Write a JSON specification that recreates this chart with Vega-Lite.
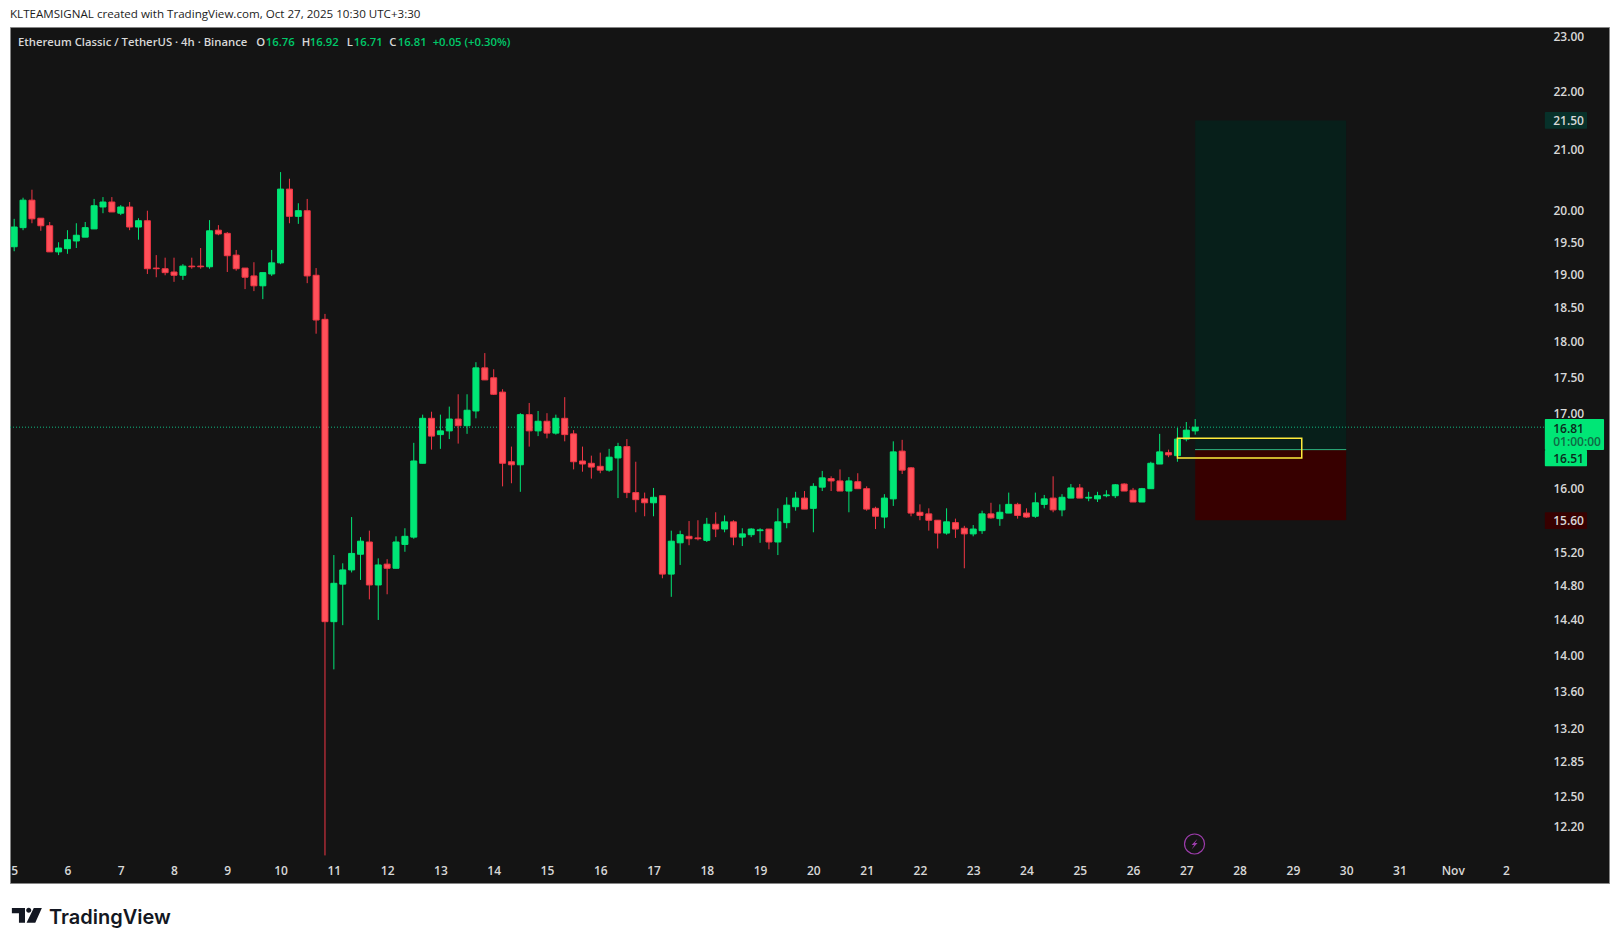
{"$schema":"https://vega.github.io/schema/vega-lite/v6.json","width":1599,"height":856,"autosize":{"type":"none"},"padding":{"left":10,"top":27,"right":11,"bottom":61},"background":"#ffffff","view":{"fill":"#141414","stroke":"#858585"},
"title":{"text":"KLTEAMSIGNAL created with TradingView.com, Oct 27, 2025 10:30 UTC+3:30","anchor":"start","frame":"group","dx":0,"offset":6,"font":"Open Sans","fontSize":11.6,"fontWeight":"normal","color":"#1c1c1c"},
"resolve":{"scale":{"color":"independent","fill":"independent","stroke":"independent","strokeDash":"independent"}},
"datasets":{
"candles":[
{"t":"2025-10-05T00:00Z","o":19.43,"h":19.87,"l":19.36,"c":19.74,"d":"up"},
{"t":"2025-10-05T04:00Z","o":19.73,"h":20.21,"l":19.69,"c":20.17,"d":"up"},
{"t":"2025-10-05T08:00Z","o":20.17,"h":20.34,"l":19.80,"c":19.87,"d":"down"},
{"t":"2025-10-05T12:00Z","o":19.88,"h":19.88,"l":19.68,"c":19.76,"d":"down"},
{"t":"2025-10-05T16:00Z","o":19.76,"h":19.82,"l":19.35,"c":19.35,"d":"down"},
{"t":"2025-10-05T20:00Z","o":19.35,"h":19.50,"l":19.30,"c":19.41,"d":"up"},
{"t":"2025-10-06T00:00Z","o":19.40,"h":19.69,"l":19.32,"c":19.54,"d":"up"},
{"t":"2025-10-06T04:00Z","o":19.52,"h":19.80,"l":19.41,"c":19.61,"d":"up"},
{"t":"2025-10-06T08:00Z","o":19.58,"h":19.82,"l":19.58,"c":19.73,"d":"up"},
{"t":"2025-10-06T12:00Z","o":19.71,"h":20.19,"l":19.71,"c":20.08,"d":"up"},
{"t":"2025-10-06T16:00Z","o":20.06,"h":20.22,"l":19.96,"c":20.14,"d":"up"},
{"t":"2025-10-06T20:00Z","o":20.14,"h":20.22,"l":19.98,"c":19.98,"d":"down"},
{"t":"2025-10-07T00:00Z","o":19.96,"h":20.09,"l":19.93,"c":20.06,"d":"up"},
{"t":"2025-10-07T04:00Z","o":20.06,"h":20.14,"l":19.69,"c":19.74,"d":"down"},
{"t":"2025-10-07T08:00Z","o":19.74,"h":19.88,"l":19.54,"c":19.84,"d":"up"},
{"t":"2025-10-07T12:00Z","o":19.84,"h":20.00,"l":19.01,"c":19.09,"d":"down"},
{"t":"2025-10-07T16:00Z","o":19.10,"h":19.30,"l":18.96,"c":19.09,"d":"down"},
{"t":"2025-10-07T20:00Z","o":19.09,"h":19.26,"l":18.99,"c":19.03,"d":"down"},
{"t":"2025-10-08T00:00Z","o":19.04,"h":19.26,"l":18.89,"c":18.99,"d":"down"},
{"t":"2025-10-08T04:00Z","o":18.99,"h":19.16,"l":18.92,"c":19.13,"d":"up"},
{"t":"2025-10-08T08:00Z","o":19.13,"h":19.26,"l":19.09,"c":19.12,"d":"down"},
{"t":"2025-10-08T12:00Z","o":19.13,"h":19.41,"l":19.09,"c":19.12,"d":"down"},
{"t":"2025-10-08T16:00Z","o":19.12,"h":19.85,"l":19.09,"c":19.68,"d":"up"},
{"t":"2025-10-08T20:00Z","o":19.69,"h":19.77,"l":19.61,"c":19.63,"d":"down"},
{"t":"2025-10-09T00:00Z","o":19.64,"h":19.66,"l":19.04,"c":19.29,"d":"down"},
{"t":"2025-10-09T04:00Z","o":19.30,"h":19.38,"l":19.06,"c":19.09,"d":"down"},
{"t":"2025-10-09T08:00Z","o":19.10,"h":19.10,"l":18.78,"c":18.96,"d":"down"},
{"t":"2025-10-09T12:00Z","o":18.98,"h":19.19,"l":18.75,"c":18.83,"d":"down"},
{"t":"2025-10-09T16:00Z","o":18.83,"h":19.03,"l":18.63,"c":19.03,"d":"up"},
{"t":"2025-10-09T20:00Z","o":19.01,"h":19.38,"l":18.98,"c":19.18,"d":"up"},
{"t":"2025-10-10T00:00Z","o":19.18,"h":20.63,"l":19.16,"c":20.35,"d":"up"},
{"t":"2025-10-10T04:00Z","o":20.35,"h":20.52,"l":19.80,"c":19.91,"d":"down"},
{"t":"2025-10-10T08:00Z","o":19.91,"h":20.12,"l":19.79,"c":20.00,"d":"up"},
{"t":"2025-10-10T12:00Z","o":20.00,"h":20.19,"l":18.87,"c":18.98,"d":"down"},
{"t":"2025-10-10T16:00Z","o":18.99,"h":19.10,"l":18.12,"c":18.32,"d":"down"},
{"t":"2025-10-10T20:00Z","o":18.33,"h":18.41,"l":11.92,"c":14.38,"d":"down"},
{"t":"2025-10-11T00:00Z","o":14.38,"h":15.17,"l":13.84,"c":14.83,"d":"up"},
{"t":"2025-10-11T04:00Z","o":14.82,"h":15.07,"l":14.34,"c":14.99,"d":"up"},
{"t":"2025-10-11T08:00Z","o":14.99,"h":15.64,"l":14.96,"c":15.19,"d":"up"},
{"t":"2025-10-11T12:00Z","o":15.18,"h":15.39,"l":14.87,"c":15.34,"d":"up"},
{"t":"2025-10-11T16:00Z","o":15.33,"h":15.47,"l":14.64,"c":14.81,"d":"down"},
{"t":"2025-10-11T20:00Z","o":14.81,"h":15.13,"l":14.40,"c":15.05,"d":"up"},
{"t":"2025-10-12T00:00Z","o":15.06,"h":15.12,"l":14.70,"c":15.01,"d":"down"},
{"t":"2025-10-12T04:00Z","o":15.01,"h":15.40,"l":15.01,"c":15.33,"d":"up"},
{"t":"2025-10-12T08:00Z","o":15.30,"h":15.50,"l":15.21,"c":15.40,"d":"up"},
{"t":"2025-10-12T12:00Z","o":15.39,"h":16.60,"l":15.37,"c":16.36,"d":"up"},
{"t":"2025-10-12T16:00Z","o":16.33,"h":16.98,"l":16.33,"c":16.93,"d":"up"},
{"t":"2025-10-12T20:00Z","o":16.93,"h":17.02,"l":16.51,"c":16.69,"d":"down"},
{"t":"2025-10-13T00:00Z","o":16.71,"h":16.98,"l":16.52,"c":16.76,"d":"up"},
{"t":"2025-10-13T04:00Z","o":16.76,"h":17.09,"l":16.65,"c":16.92,"d":"up"},
{"t":"2025-10-13T08:00Z","o":16.92,"h":17.26,"l":16.59,"c":16.83,"d":"down"},
{"t":"2025-10-13T12:00Z","o":16.83,"h":17.26,"l":16.72,"c":17.04,"d":"up"},
{"t":"2025-10-13T16:00Z","o":17.03,"h":17.71,"l":16.93,"c":17.63,"d":"up"},
{"t":"2025-10-13T20:00Z","o":17.63,"h":17.84,"l":17.46,"c":17.46,"d":"down"},
{"t":"2025-10-14T00:00Z","o":17.49,"h":17.61,"l":17.25,"c":17.26,"d":"down"},
{"t":"2025-10-14T04:00Z","o":17.29,"h":17.33,"l":16.03,"c":16.33,"d":"down"},
{"t":"2025-10-14T08:00Z","o":16.35,"h":16.55,"l":16.07,"c":16.31,"d":"down"},
{"t":"2025-10-14T12:00Z","o":16.31,"h":17.00,"l":15.96,"c":16.98,"d":"up"},
{"t":"2025-10-14T16:00Z","o":16.98,"h":17.14,"l":16.55,"c":16.76,"d":"down"},
{"t":"2025-10-14T20:00Z","o":16.76,"h":17.03,"l":16.69,"c":16.89,"d":"up"},
{"t":"2025-10-15T00:00Z","o":16.89,"h":17.00,"l":16.66,"c":16.73,"d":"down"},
{"t":"2025-10-15T04:00Z","o":16.73,"h":16.98,"l":16.71,"c":16.93,"d":"up"},
{"t":"2025-10-15T08:00Z","o":16.93,"h":17.22,"l":16.62,"c":16.71,"d":"down"},
{"t":"2025-10-15T12:00Z","o":16.72,"h":16.77,"l":16.25,"c":16.35,"d":"down"},
{"t":"2025-10-15T16:00Z","o":16.36,"h":16.55,"l":16.22,"c":16.32,"d":"down"},
{"t":"2025-10-15T20:00Z","o":16.33,"h":16.43,"l":16.13,"c":16.28,"d":"down"},
{"t":"2025-10-16T00:00Z","o":16.29,"h":16.47,"l":16.20,"c":16.24,"d":"down"},
{"t":"2025-10-16T04:00Z","o":16.24,"h":16.52,"l":16.22,"c":16.41,"d":"up"},
{"t":"2025-10-16T08:00Z","o":16.40,"h":16.60,"l":15.88,"c":16.55,"d":"up"},
{"t":"2025-10-16T12:00Z","o":16.55,"h":16.65,"l":15.88,"c":15.95,"d":"down"},
{"t":"2025-10-16T16:00Z","o":15.95,"h":16.35,"l":15.70,"c":15.86,"d":"down"},
{"t":"2025-10-16T20:00Z","o":15.87,"h":15.95,"l":15.65,"c":15.82,"d":"down"},
{"t":"2025-10-17T00:00Z","o":15.82,"h":16.01,"l":15.65,"c":15.89,"d":"up"},
{"t":"2025-10-17T04:00Z","o":15.91,"h":15.91,"l":14.89,"c":14.94,"d":"down"},
{"t":"2025-10-17T08:00Z","o":14.94,"h":15.47,"l":14.67,"c":15.34,"d":"up"},
{"t":"2025-10-17T12:00Z","o":15.32,"h":15.47,"l":15.05,"c":15.42,"d":"up"},
{"t":"2025-10-17T16:00Z","o":15.40,"h":15.59,"l":15.29,"c":15.37,"d":"down"},
{"t":"2025-10-17T20:00Z","o":15.38,"h":15.60,"l":15.35,"c":15.37,"d":"down"},
{"t":"2025-10-18T00:00Z","o":15.35,"h":15.63,"l":15.33,"c":15.55,"d":"up"},
{"t":"2025-10-18T04:00Z","o":15.55,"h":15.70,"l":15.39,"c":15.49,"d":"down"},
{"t":"2025-10-18T08:00Z","o":15.49,"h":15.66,"l":15.45,"c":15.58,"d":"up"},
{"t":"2025-10-18T12:00Z","o":15.58,"h":15.60,"l":15.29,"c":15.39,"d":"down"},
{"t":"2025-10-18T16:00Z","o":15.39,"h":15.50,"l":15.28,"c":15.43,"d":"up"},
{"t":"2025-10-18T20:00Z","o":15.42,"h":15.50,"l":15.39,"c":15.49,"d":"up"},
{"t":"2025-10-19T00:00Z","o":15.47,"h":15.50,"l":15.32,"c":15.48,"d":"up"},
{"t":"2025-10-19T04:00Z","o":15.49,"h":15.49,"l":15.24,"c":15.33,"d":"down"},
{"t":"2025-10-19T08:00Z","o":15.33,"h":15.75,"l":15.17,"c":15.58,"d":"up"},
{"t":"2025-10-19T12:00Z","o":15.57,"h":15.89,"l":15.50,"c":15.79,"d":"up"},
{"t":"2025-10-19T16:00Z","o":15.77,"h":15.96,"l":15.72,"c":15.88,"d":"up"},
{"t":"2025-10-19T20:00Z","o":15.88,"h":15.97,"l":15.74,"c":15.74,"d":"down"},
{"t":"2025-10-20T00:00Z","o":15.75,"h":16.07,"l":15.45,"c":16.03,"d":"up"},
{"t":"2025-10-20T04:00Z","o":16.02,"h":16.23,"l":15.97,"c":16.14,"d":"up"},
{"t":"2025-10-20T08:00Z","o":16.13,"h":16.16,"l":15.97,"c":16.10,"d":"down"},
{"t":"2025-10-20T12:00Z","o":16.10,"h":16.25,"l":15.97,"c":15.97,"d":"down"},
{"t":"2025-10-20T16:00Z","o":15.97,"h":16.15,"l":15.70,"c":16.10,"d":"up"},
{"t":"2025-10-20T20:00Z","o":16.09,"h":16.20,"l":16.00,"c":16.00,"d":"down"},
{"t":"2025-10-21T00:00Z","o":16.00,"h":16.03,"l":15.72,"c":15.74,"d":"down"},
{"t":"2025-10-21T04:00Z","o":15.75,"h":15.77,"l":15.49,"c":15.65,"d":"down"},
{"t":"2025-10-21T08:00Z","o":15.64,"h":15.93,"l":15.50,"c":15.88,"d":"up"},
{"t":"2025-10-21T12:00Z","o":15.87,"h":16.62,"l":15.78,"c":16.48,"d":"up"},
{"t":"2025-10-21T16:00Z","o":16.49,"h":16.64,"l":16.19,"c":16.24,"d":"down"},
{"t":"2025-10-21T20:00Z","o":16.27,"h":16.28,"l":15.65,"c":15.69,"d":"down"},
{"t":"2025-10-22T00:00Z","o":15.70,"h":15.80,"l":15.60,"c":15.66,"d":"down"},
{"t":"2025-10-22T04:00Z","o":15.68,"h":15.75,"l":15.47,"c":15.60,"d":"down"},
{"t":"2025-10-22T08:00Z","o":15.60,"h":15.60,"l":15.25,"c":15.44,"d":"down"},
{"t":"2025-10-22T12:00Z","o":15.44,"h":15.75,"l":15.42,"c":15.58,"d":"up"},
{"t":"2025-10-22T16:00Z","o":15.57,"h":15.62,"l":15.38,"c":15.49,"d":"down"},
{"t":"2025-10-22T20:00Z","o":15.50,"h":15.53,"l":15.01,"c":15.43,"d":"down"},
{"t":"2025-10-23T00:00Z","o":15.43,"h":15.54,"l":15.40,"c":15.49,"d":"up"},
{"t":"2025-10-23T04:00Z","o":15.47,"h":15.72,"l":15.43,"c":15.68,"d":"up"},
{"t":"2025-10-23T08:00Z","o":15.68,"h":15.82,"l":15.62,"c":15.63,"d":"down"},
{"t":"2025-10-23T12:00Z","o":15.62,"h":15.80,"l":15.53,"c":15.70,"d":"up"},
{"t":"2025-10-23T16:00Z","o":15.69,"h":15.95,"l":15.69,"c":15.80,"d":"up"},
{"t":"2025-10-23T20:00Z","o":15.80,"h":15.82,"l":15.62,"c":15.66,"d":"down"},
{"t":"2025-10-24T00:00Z","o":15.69,"h":15.75,"l":15.63,"c":15.64,"d":"down"},
{"t":"2025-10-24T04:00Z","o":15.65,"h":15.95,"l":15.63,"c":15.82,"d":"up"},
{"t":"2025-10-24T08:00Z","o":15.80,"h":15.92,"l":15.75,"c":15.87,"d":"up"},
{"t":"2025-10-24T12:00Z","o":15.88,"h":16.16,"l":15.70,"c":15.73,"d":"down"},
{"t":"2025-10-24T16:00Z","o":15.73,"h":15.93,"l":15.65,"c":15.89,"d":"up"},
{"t":"2025-10-24T20:00Z","o":15.88,"h":16.06,"l":15.88,"c":16.01,"d":"up"},
{"t":"2025-10-25T00:00Z","o":16.01,"h":16.06,"l":15.88,"c":15.88,"d":"down"},
{"t":"2025-10-25T04:00Z","o":15.88,"h":15.96,"l":15.84,"c":15.89,"d":"up"},
{"t":"2025-10-25T08:00Z","o":15.87,"h":15.96,"l":15.83,"c":15.91,"d":"up"},
{"t":"2025-10-25T12:00Z","o":15.91,"h":15.98,"l":15.89,"c":15.92,"d":"up"},
{"t":"2025-10-25T16:00Z","o":15.91,"h":16.06,"l":15.88,"c":16.05,"d":"up"},
{"t":"2025-10-25T20:00Z","o":16.06,"h":16.07,"l":15.97,"c":15.97,"d":"down"},
{"t":"2025-10-26T00:00Z","o":15.98,"h":16.01,"l":15.83,"c":15.83,"d":"down"},
{"t":"2025-10-26T04:00Z","o":15.83,"h":16.01,"l":15.83,"c":16.00,"d":"up"},
{"t":"2025-10-26T08:00Z","o":16.00,"h":16.35,"l":16.00,"c":16.33,"d":"up"},
{"t":"2025-10-26T12:00Z","o":16.32,"h":16.72,"l":16.32,"c":16.48,"d":"up"},
{"t":"2025-10-26T16:00Z","o":16.47,"h":16.51,"l":16.41,"c":16.44,"d":"down"},
{"t":"2025-10-26T20:00Z","o":16.43,"h":16.80,"l":16.35,"c":16.65,"d":"up"},
{"t":"2025-10-27T00:00Z","o":16.65,"h":16.88,"l":16.62,"c":16.77,"d":"up"},
{"t":"2025-10-27T04:00Z","o":16.76,"h":16.92,"l":16.71,"c":16.81,"d":"up"}
],
"zones":[
{"x1":"2025-10-27T04:00Z","x2":"2025-10-30T00:00Z","p1":21.5,"p2":16.51,"kind":"target"},
{"x1":"2025-10-27T04:00Z","x2":"2025-10-30T00:00Z","p1":16.51,"p2":15.6,"kind":"stop"},
{"x1":"2025-11-02T17:30Z","x2":"2025-11-03T20:10Z","p1":16.92,"p2":16.505,"kind":"last"},
{"x1":"2025-11-02T17:30Z","x2":"2025-11-03T12:30Z","p1":16.505,"p2":16.29,"kind":"last"},
{"x1":"2025-11-02T17:30Z","x2":"2025-11-03T12:30Z","p1":15.7,"p2":15.49,"kind":"stop"},
{"x1":"2025-11-02T17:30Z","x2":"2025-11-03T12:30Z","p1":21.65,"p2":21.36,"kind":"targetTag"}
],
"legendRow":[
{"t":"2025-10-05T01:42Z","p":22.89,"s":"Ethereum Classic / TetherUS · 4h · Binance","k":"plain"},
{"t":"2025-10-09T13:05Z","p":22.89,"s":"O","k":"plain"},
{"t":"2025-10-09T17:21Z","p":22.89,"s":"16.76","k":"value"},
{"t":"2025-10-10T09:33Z","p":22.89,"s":"H","k":"plain"},
{"t":"2025-10-10T13:10Z","p":22.89,"s":"16.92","k":"value"},
{"t":"2025-10-11T05:48Z","p":22.89,"s":"L","k":"plain"},
{"t":"2025-10-11T08:58Z","p":22.89,"s":"16.71","k":"value"},
{"t":"2025-10-12T00:56Z","p":22.89,"s":"C","k":"plain"},
{"t":"2025-10-12T04:45Z","p":22.89,"s":"16.81","k":"value"},
{"t":"2025-10-12T20:30Z","p":22.89,"s":"+0.05 (+0.30%)","k":"value"}
],
"labels":[
{"t":"2025-11-02T21:15Z","p":16.78,"s":"16.81","k":"dark"},
{"t":"2025-11-02T21:15Z","p":16.61,"s":"01:00:00","k":"timer"},
{"t":"2025-11-02T21:15Z","p":16.38,"s":"16.51","k":"dark"},
{"t":"2025-11-02T21:15Z","p":15.59,"s":"15.60","k":"plain"},
{"t":"2025-11-02T21:15Z","p":21.5,"s":"21.50","k":"plain"}
],
"brand":[{"t":"2025-10-05T15:42Z","p":11.34,"s":"TradingView"}],
"logo":[{"t":"2025-10-05T05:43Z","p":11.36}],
"icon":[{"t":"2025-10-27T03:42Z","p":12.03}],
"entry":[{"x1":"2025-10-26T20:00Z","x2":"2025-10-29T04:00Z","p1":16.66,"p2":16.4}],
"levels":[{"x1":"2025-10-04T22:07Z","x2":"2025-11-02T17:30Z","p":16.81,"k":"last"},{"x1":"2025-10-27T04:00Z","x2":"2025-10-30T00:00Z","p":16.51,"k":"entry"}]
},
"layer":[
{"data":{"name":"zones"},"mark":{"type":"rect","cornerRadius":1},
"encoding":{
"x":{"field":"x1","type":"temporal","scale":{"type":"utc","padding":0,"domain":["2025-10-04T22:07Z","2025-11-03T22:24Z"]},
"axis":{"title":null,"grid":false,"domain":false,"ticks":false,"orient":"bottom","labelPadding":-18,"labelFont":"Open Sans","labelFontSize":12,"labelFontWeight":600,"labelColor":"#d8d8d8","labelOverlap":false,"labelFlush":false,"labelBound":false,
"values":["2025-10-05T00:00Z","2025-10-06T00:00Z","2025-10-07T00:00Z","2025-10-08T00:00Z","2025-10-09T00:00Z","2025-10-10T00:00Z","2025-10-11T00:00Z","2025-10-12T00:00Z","2025-10-13T00:00Z","2025-10-14T00:00Z","2025-10-15T00:00Z","2025-10-16T00:00Z","2025-10-17T00:00Z","2025-10-18T00:00Z","2025-10-19T00:00Z","2025-10-20T00:00Z","2025-10-21T00:00Z","2025-10-22T00:00Z","2025-10-23T00:00Z","2025-10-24T00:00Z","2025-10-25T00:00Z","2025-10-26T00:00Z","2025-10-27T00:00Z","2025-10-28T00:00Z","2025-10-29T00:00Z","2025-10-30T00:00Z","2025-10-31T00:00Z","2025-11-01T00:00Z","2025-11-02T00:00Z"],
"labelExpr":"utcdate(datum.value)==1?'Nov':''+utcdate(datum.value)"}},
"x2":{"field":"x2"},
"y":{"field":"p1","type":"quantitative","scale":{"type":"log","domain":[11.659,23.178],"nice":false,"zero":false},
"axis":{"title":null,"orient":"right","grid":false,"domain":false,"ticks":false,"labelPadding":-56,"labelAlign":"left","labelFont":"Open Sans","labelFontSize":12,"labelFontWeight":600,"labelColor":"#d8d8d8","labelOverlap":false,"labelBound":false,"labelFlush":false,"format":".2f",
"values":[23,22,21,20,19.5,19,18.5,18,17.5,17,16,15.2,14.8,14.4,14,13.6,13.2,12.85,12.5,12.2]}},
"y2":{"field":"p2"},
"color":{"field":"kind","type":"nominal","legend":null,"scale":{"domain":["target","stop","last","targetTag"],"range":["#071f1a","#370000","#00e676","#07312a"]}}}},
{"data":{"name":"levels"},"mark":{"type":"rule","strokeWidth":1},
"encoding":{"x":{"field":"x1","type":"temporal"},"x2":{"field":"x2"},"y":{"field":"p","type":"quantitative"},
"strokeDash":{"field":"k","type":"nominal","legend":null,"scale":{"domain":["last","entry"],"range":[[1,2],[1,0]]}},
"color":{"field":"k","type":"nominal","legend":null,"scale":{"domain":["last","entry"],"range":["#10b981","#2bd095"]}}}},
{"data":{"name":"candles"},"mark":{"type":"rule","strokeWidth":1},
"encoding":{"x":{"field":"t","type":"temporal"},"y":{"field":"h","type":"quantitative"},"y2":{"field":"l"},
"color":{"field":"d","type":"nominal","legend":null,"scale":{"domain":["up","down"],"range":["#00e676","#f23645"]}}}},
{"data":{"name":"candles"},"mark":{"type":"bar","size":6,"strokeWidth":1},
"encoding":{"x":{"field":"t","type":"temporal"},"y":{"field":"o","type":"quantitative"},"y2":{"field":"c"},
"fill":{"field":"d","type":"nominal","legend":null,"scale":{"domain":["up","down"],"range":["#00e676","#ff5059"]}},
"stroke":{"field":"d","type":"nominal","legend":null,"scale":{"domain":["up","down"],"range":["#00e676","#f23645"]}}}},
{"data":{"name":"entry"},"mark":{"type":"rect","fill":null,"stroke":"#ffeb3b","strokeWidth":1.5},
"encoding":{"x":{"field":"x1","type":"temporal"},"x2":{"field":"x2"},"y":{"field":"p1","type":"quantitative"},"y2":{"field":"p2"}}},
{"data":{"name":"legendRow"},"mark":{"type":"text","align":"left","baseline":"middle","font":"Open Sans","fontSize":11.3,"fontWeight":600},
"encoding":{"x":{"field":"t","type":"temporal"},"y":{"field":"p","type":"quantitative"},"text":{"field":"s"},
"color":{"field":"k","type":"nominal","legend":null,"scale":{"domain":["plain","value"],"range":["#d8d8d8","#00c869"]}}}},
{"data":{"name":"labels"},"mark":{"type":"text","align":"left","baseline":"middle","font":"Open Sans","fontSize":12,"fontWeight":600},
"encoding":{"x":{"field":"t","type":"temporal"},"y":{"field":"p","type":"quantitative"},"text":{"field":"s"},
"color":{"field":"k","type":"nominal","legend":null,"scale":{"domain":["plain","dark","timer"],"range":["#d8d8d8","#0b2a1c","#0f6b45"]}}}},
{"data":{"name":"icon"},"mark":{"type":"point","shape":"circle","size":400,"filled":false,"stroke":"#9c3cab","strokeWidth":1.2,"opacity":1},
"encoding":{"x":{"field":"t","type":"temporal"},"y":{"field":"p","type":"quantitative"}}},
{"data":{"name":"icon"},"mark":{"type":"point","shape":"M0.5,-0.89L-0.5,0.17L-0.05,0.17L-0.5,0.94L0.5,-0.17L0.05,-0.17Z","size":144,"filled":true,"fill":"#9c3cab","stroke":null,"opacity":1},
"encoding":{"x":{"field":"t","type":"temporal"},"y":{"field":"p","type":"quantitative"}}},
{"data":{"name":"brand"},"mark":{"type":"text","align":"left","baseline":"middle","font":"Inter","fontSize":20,"fontWeight":600,"color":"#131722"},
"encoding":{"x":{"field":"t","type":"temporal"},"y":{"field":"p","type":"quantitative"},"text":{"field":"s"}}},
{"data":{"name":"logo"},"mark":{"type":"point","shape":"M-1,-0.494L-0.124,-0.494L-0.124,0.494L-0.528,0.494L-0.528,-0.135L-1,-0.135ZM-0.046,-0.337A0.17,0.17 0 1 1 0.294,-0.337A0.17,0.17 0 1 1 -0.046,-0.337ZM0.46,-0.494L1,-0.494L0.56,0.494L-0.02,0.494Z","size":900,"filled":true,"fill":"#131722","stroke":null,"opacity":1},
"encoding":{"x":{"field":"t","type":"temporal"},"y":{"field":"p","type":"quantitative"}}}
]
}
